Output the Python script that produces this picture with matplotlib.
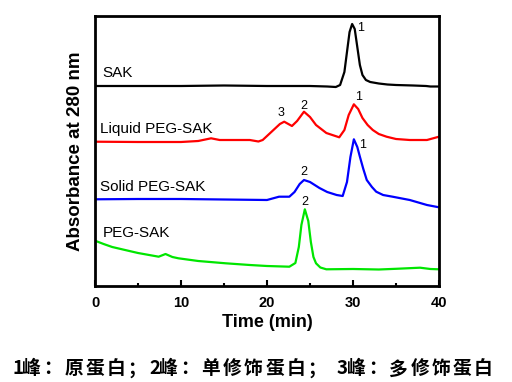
import matplotlib.pyplot as plt

# Chromatogram traces (time in min, absorbance in arbitrary units)
sak_t = [0, 5, 10, 15, 20, 25, 27, 28, 28.5, 29, 29.3, 29.6, 29.9, 30.2, 30.5, 30.8, 31.1, 31.5, 32, 33, 34, 35, 37, 38.5, 39, 40]
sak_y = [201, 201, 201, 201.5, 201, 201, 200.5, 200, 202, 215, 235, 255, 263, 258, 240, 222, 212, 207, 205, 203.5, 202.5, 202, 201.5, 201, 200.5, 200.5]

liquid_t = [0, 5, 10, 12, 13.5, 14.5, 16, 18, 19, 19.5, 20.5, 21.5, 22, 22.9, 23.5, 24.3, 25, 25.7, 26.9, 28.4, 29, 29.5, 30.1, 30.6, 31.1, 31.7, 32.3, 33, 33.9, 35, 36.6, 38.6, 40]
liquid_y = [145.3, 145, 145, 146, 148.7, 147, 147, 147, 145.5, 147, 155, 163, 165.3, 161, 166, 175.3, 170, 162, 154, 149.7, 157, 172, 182.7, 178, 169, 162, 157, 153, 150.3, 148, 147, 147, 150.3]

solid_t = [0, 5, 10, 15, 20, 21.4, 22.6, 23.2, 23.8, 24.3, 25, 26.1, 27, 28.1, 28.8, 29.3, 29.7, 30.1, 30.5, 30.8, 31.2, 31.6, 32.2, 32.7, 33.5, 34.6, 36.6, 38.6, 40]
solid_y = [87.7, 88, 88, 87.5, 87, 90.3, 90.3, 95, 103, 107, 105, 99, 95, 92, 91, 105, 130, 147.7, 140, 130.3, 118, 107, 100, 95.3, 92, 90.3, 87, 82, 79.7]

peg_t = [0, 1, 2, 3.5, 5, 7.4, 8.2, 9, 9.7, 12, 15.2, 18, 20, 22.6, 23.3, 23.7, 24.0, 24.4, 24.8, 25.1, 25.4, 25.7, 26.2, 26.9, 30, 33, 35, 37.8, 39, 40]
peg_y = [46.3, 43, 40, 37, 34, 30.3, 33, 30, 28.7, 26, 23.7, 22, 21, 20.3, 24, 40, 62, 77.7, 66, 45, 30, 23.7, 19.5, 17.7, 18, 17.5, 18.2, 19.3, 18, 17.7]

# Peak numbers: (time, height, label)
peak_t = [30.9, 21.6, 24.3, 30.6, 31.1, 24.3, 24.4]
peak_y = [259, 174, 181, 190, 142, 115, 85]
peak_lbl = ['1', '3', '2', '1', '1', '2', '2']

caption = '1峰：原蛋白；2峰：单修饰蛋白；3峰：多修饰蛋白'

fig = plt.figure(figsize=(5.12, 3.82), dpi=100)
ax = fig.add_axes([95 / 512, 1 - 286 / 382, 344 / 512, 270 / 382])

ax.plot(sak_t, sak_y, color='black', lw=1.6)
ax.plot(liquid_t, liquid_y, color='#ff0000', lw=1.6)
ax.plot(solid_t, solid_y, color='#0000ff', lw=1.6)
ax.plot(peg_t, peg_y, color='#00e600', lw=1.6)

ax.text(0.9, 214, 'SAK', fontsize=11, family='Liberation Sans', va='center')
ax.text(0.6, 158, 'Liquid PEG-SAK', fontsize=11, family='Liberation Sans', va='center')
ax.text(0.6, 100, 'Solid PEG-SAK', fontsize=11, family='Liberation Sans', va='center')
ax.text(0.9, 54, 'PEG-SAK', fontsize=11, family='Liberation Sans', va='center')

for t, h, s in zip(peak_t, peak_y, peak_lbl):
    ax.text(t, h, s, fontsize=9, family='Liberation Sans', ha='center', va='center')

ax.set_xlim(0, 40)
ax.set_ylim(1, 271)
ax.set_yticks([])
ax.set_xticks([0, 10, 20, 30, 40])
ax.set_xticks([5, 15, 25, 35], minor=True)
ax.tick_params(axis='x', which='major', direction='in', length=4, width=1.5, pad=7)
ax.tick_params(axis='x', which='minor', direction='in', length=2, width=1.5)
for lbl in ax.get_xticklabels():
    lbl.set_fontfamily('Liberation Sans')
    lbl.set_fontweight('bold')
    lbl.set_fontsize(10.5)
for sp in ax.spines.values():
    sp.set_linewidth(2)

ax.set_xlabel('Time (min)', fontsize=13, fontweight='bold', family='Liberation Sans', labelpad=3)
ax.set_ylabel('Absorbance at 280 nm', fontsize=13.5, fontweight='bold', family='Liberation Sans', labelpad=8)

# caption drawn glyph by glyph to get the wide spacing of the original
x = 12
for ch in caption:
    fig.text(x / 512, 1 - 369 / 382, ch, fontsize=13.5, fontweight='bold',
             family=['Noto Sans CJK SC', 'DejaVu Sans'], va='center')
    if ch.isdigit():
        x += 10
    else:
        x += 21.2
    if ch == '；' and x > 300:
        x += 8

fig.savefig('out.png', dpi=100)
